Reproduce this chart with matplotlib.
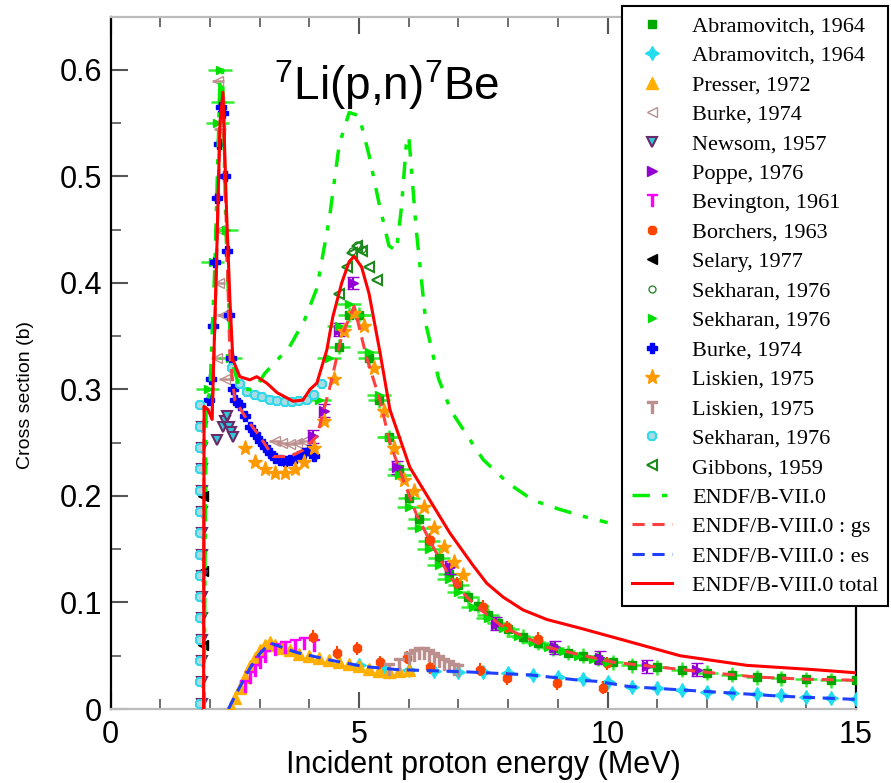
import matplotlib
matplotlib.use('Agg')
import matplotlib.pyplot as plt
from matplotlib.ticker import MultipleLocator, FixedLocator, FixedFormatter

plt.rcParams['font.family'] = ['Liberation Sans', 'DejaVu Sans']
plt.rcParams['mathtext.fontset'] = 'custom'
plt.rcParams['mathtext.rm'] = 'Liberation Sans'
plt.rcParams['mathtext.it'] = 'Liberation Sans'

# ---- evaluated curves (MeV, barn) ----
endf7_e = [1.88, 1.92, 2.0, 2.1, 2.2, 2.25, 2.32, 2.42, 2.6, 2.9, 3.1, 3.3, 3.6, 3.9, 4.15,
           4.4, 4.6, 4.8, 5.0, 5.2, 5.4, 5.6, 5.75, 5.85, 5.95, 6.0, 6.15, 6.35, 6.6, 6.85,
           7.2, 7.5, 8.0, 8.5, 9.0, 9.5, 10.0]
endf7_v = [0.0, 0.28, 0.30, 0.42, 0.59, 0.60, 0.45, 0.33, 0.30, 0.30, 0.315, 0.325, 0.34, 0.365, 0.395,
           0.46, 0.53, 0.56, 0.557, 0.52, 0.475, 0.435, 0.43, 0.47, 0.53, 0.538, 0.45, 0.36, 0.31, 0.28,
           0.255, 0.234, 0.212, 0.196, 0.188, 0.181, 0.175]

tot_e = [1.87, 1.88, 1.96, 2.04, 2.12, 2.2, 2.26, 2.33, 2.40, 2.46, 2.6, 2.8, 2.94, 3.14, 3.35,
         3.67, 3.87, 4.01, 4.15, 4.35, 4.47, 4.65, 4.8, 4.9, 5.05, 5.2, 5.42, 5.62, 6.02, 6.45,
         6.83, 7.29, 7.57, 7.9, 8.3, 8.78, 9.44, 10.3, 11.46, 12.8, 14.14, 15.0]
tot_v = [0.0, 0.284, 0.281, 0.272, 0.40, 0.55, 0.579, 0.47, 0.384, 0.328, 0.312, 0.309, 0.312, 0.306, 0.297,
         0.289, 0.29, 0.300, 0.306, 0.337, 0.368, 0.40, 0.42, 0.425, 0.415, 0.39, 0.335, 0.281, 0.227, 0.194,
         0.165, 0.135, 0.118, 0.105, 0.093, 0.084, 0.076, 0.065, 0.050, 0.041, 0.037, 0.034]

gs_e = [1.87, 1.88, 1.96, 2.04, 2.12, 2.2, 2.26, 2.33, 2.40, 2.5, 2.74, 3.0, 3.27, 3.61, 3.87,
        4.15, 4.4, 4.65, 4.9, 5.15, 5.42, 5.62, 5.89, 6.16, 6.49, 6.83, 7.17, 7.43, 7.9, 8.78,
        9.44, 10.1, 11.1, 12.1, 13.0, 14.0, 15.0]
gs_v = [0.0, 0.284, 0.281, 0.272, 0.40, 0.55, 0.575, 0.45, 0.33, 0.29, 0.272, 0.256, 0.237, 0.237, 0.243,
        0.256, 0.30, 0.35, 0.378, 0.33, 0.29, 0.25, 0.215, 0.182, 0.152, 0.124, 0.105, 0.094, 0.077, 0.058,
        0.051, 0.044, 0.039, 0.034, 0.030, 0.028, 0.027]

es_e = [2.37, 2.5, 2.8, 3.0, 3.21, 3.5, 3.75, 4.41, 5.08, 5.76, 7.1, 8.44, 9.44, 9.78, 10.45,
        11.46, 12.5, 13.5, 15.0]
es_v = [0.0, 0.012, 0.038, 0.052, 0.062, 0.057, 0.053, 0.046, 0.040, 0.037, 0.035, 0.032, 0.027, 0.026, 0.021,
        0.018, 0.015, 0.012, 0.009]

# ---- experimental data ----
abr_gs_e = [4.6, 4.8, 5.0, 5.2, 5.4, 5.6, 5.8, 6.0, 6.2, 6.4, 6.6, 6.8, 7.0, 7.2, 7.4, 7.6, 7.8, 8.0,
            8.3, 8.6, 8.9, 9.2, 9.5, 9.8, 10.1, 10.5, 11.0, 11.5, 12.0, 12.5, 13.0, 13.5, 14.0, 14.5, 15.0]
abr_gs_v = [0.34, 0.37, 0.37, 0.33, 0.29, 0.255, 0.225, 0.198, 0.178, 0.158, 0.142, 0.127, 0.116, 0.105,
            0.097, 0.088, 0.081, 0.075, 0.068, 0.062, 0.057, 0.053, 0.050, 0.047, 0.044, 0.041, 0.039,
            0.037, 0.034, 0.032, 0.030, 0.029, 0.028, 0.027, 0.027]

abr_es_e = [5.0, 5.5, 6.0, 6.5, 7.0, 7.5, 8.0, 8.5, 9.0, 9.5, 10.0, 10.5, 11.0, 11.5, 12.0, 12.5,
            13.0, 13.5, 14.0, 14.5, 15.0]
abr_es_v = [0.041, 0.038, 0.037, 0.036, 0.035, 0.035, 0.034, 0.032, 0.030, 0.028, 0.025, 0.021, 0.020,
            0.018, 0.016, 0.015, 0.014, 0.013, 0.011, 0.010, 0.009]

presser_e = [2.42, 2.5, 2.6, 2.7, 2.8, 2.9, 3.0, 3.1, 3.2, 3.3, 3.45, 3.6, 3.8, 4.0, 4.2, 4.4, 4.6,
             4.8, 5.0, 5.2, 5.4, 5.6, 5.8, 6.0]
presser_v = [0.002, 0.01, 0.02, 0.03, 0.04, 0.048, 0.055, 0.06, 0.063, 0.06, 0.057, 0.055, 0.052, 0.05,
             0.048, 0.046, 0.044, 0.042, 0.040, 0.038, 0.036, 0.035, 0.036, 0.037]

burke_r_e = [2.16, 2.2, 2.24, 2.2, 2.18, 2.26, 2.14, 2.3, 3.3, 3.45, 3.6, 3.75, 3.9]
burke_r_v = [0.59, 0.545, 0.50, 0.45, 0.40, 0.37, 0.33, 0.31, 0.252, 0.25, 0.249, 0.25, 0.252]

newsom_e = [1.84, 1.84, 1.84, 1.84, 1.84, 1.84, 1.84, 1.84, 1.84, 1.84, 1.84, 1.84, 1.84, 1.84,
            2.14, 2.26, 2.30, 2.34, 2.38, 2.42, 2.46]
newsom_v = [0.005, 0.025, 0.045, 0.065, 0.085, 0.105, 0.125, 0.145, 0.165, 0.185, 0.205, 0.225, 0.245,
            0.265, 0.253, 0.265, 0.27, 0.275, 0.265, 0.26, 0.255]

poppe_e = [4.08, 4.3, 4.6, 4.88, 5.76, 6.83, 7.75, 8.95, 9.85, 10.8, 11.8]
poppe_v = [0.256, 0.28, 0.356, 0.40, 0.227, 0.133, 0.08, 0.058, 0.048, 0.04, 0.037]

bev_e = [2.7, 2.8, 2.9, 3.0, 3.1, 3.3, 3.5, 3.7, 3.9, 4.1]
bev_v = [0.022, 0.03, 0.037, 0.044, 0.05, 0.056, 0.058, 0.06, 0.062, 0.06]

borch_e = [4.08, 4.55, 4.96, 5.42, 5.96, 6.43, 7.43, 7.97, 8.98, 9.9,
           6.43, 6.97, 7.5, 7.97, 8.6, 9.98]
borch_v = [0.068, 0.053, 0.057, 0.044, 0.048, 0.039, 0.037, 0.029, 0.024, 0.02,
           0.159, 0.118, 0.096, 0.077, 0.066, 0.043]

selary_e = [1.86, 1.86, 1.86]
selary_v = [0.06, 0.13, 0.2]

sek_c_e = [4.85, 4.95, 5.05]
sek_c_v = [0.43, 0.436, 0.432]

sek_t_e = [1.95, 2.05, 2.15, 2.2, 2.25, 2.32, 2.4, 4.2, 4.4, 4.6, 4.8, 5.0, 5.2, 5.4, 5.6, 5.8, 6.0,
           6.2, 6.4, 6.6, 6.8, 7.0, 7.3, 7.6, 7.9, 8.2, 8.5, 8.8, 9.1, 9.4, 9.7, 10.0]
sek_t_v = [0.3, 0.42, 0.55, 0.60, 0.57, 0.45, 0.33, 0.29, 0.33, 0.36, 0.38, 0.37, 0.335, 0.295, 0.255,
           0.22, 0.19, 0.17, 0.15, 0.135, 0.122, 0.11, 0.096, 0.085, 0.076, 0.069, 0.063, 0.058, 0.054,
           0.05, 0.047, 0.044]

burke_b_e = [1.98, 2.02, 2.06, 2.1, 2.14, 2.18, 2.22, 2.26, 2.3, 2.34, 2.38, 2.42, 2.46, 2.5, 2.6,
             2.7, 2.8, 2.9, 3.0, 3.1, 3.2, 3.3, 3.4, 3.5, 3.6, 3.7, 3.8, 3.9, 4.0, 4.1]
burke_b_v = [0.29, 0.31, 0.36, 0.42, 0.48, 0.53, 0.565, 0.56, 0.50, 0.43, 0.37, 0.33, 0.30, 0.29, 0.285,
             0.275, 0.265, 0.258, 0.252, 0.246, 0.24, 0.236, 0.234, 0.233, 0.234, 0.236, 0.238, 0.24,
             0.243, 0.238]

lisk_o_e = [2.7, 2.9, 3.1, 3.3, 3.5, 3.7, 3.9, 4.1, 4.3, 4.5, 4.7, 4.9, 5.1, 5.3, 5.5, 5.7, 5.9, 6.1,
            6.3, 6.5, 6.7, 6.9, 7.1]
lisk_o_v = [0.245, 0.232, 0.225, 0.222, 0.222, 0.225, 0.232, 0.245, 0.27, 0.31, 0.355, 0.372, 0.36, 0.32,
            0.28, 0.245, 0.215, 0.205, 0.19, 0.17, 0.152, 0.138, 0.126]

lisk_r_e = [5.6, 5.8, 6.0, 6.1, 6.2, 6.3, 6.4, 6.5, 6.6, 6.7, 6.8, 6.9, 7.0]
lisk_r_v = [0.038, 0.042, 0.048, 0.051, 0.053, 0.053, 0.051, 0.048, 0.045, 0.042, 0.04, 0.038, 0.037]

sek_o_e = [1.80, 1.80, 1.80, 1.80, 1.80, 1.80, 1.80, 1.80, 1.80, 1.80, 1.80, 1.80, 1.80, 1.80, 1.80,
           2.45, 2.6, 2.75, 2.9, 3.05, 3.2, 3.35, 3.5, 3.65, 3.8, 3.95, 4.1, 4.25]
sek_o_v = [0.005, 0.025, 0.045, 0.065, 0.085, 0.105, 0.125, 0.145, 0.165, 0.185, 0.205, 0.225, 0.245,
           0.265, 0.285, 0.32, 0.305, 0.298, 0.295, 0.293, 0.29, 0.289, 0.288, 0.288, 0.289, 0.29,
           0.295, 0.305]

gib_e = [4.6, 4.75, 4.85, 4.95, 5.05, 5.2, 5.36]
gib_v = [0.39, 0.415, 0.428, 0.435, 0.43, 0.415, 0.403]

xticks = [0, 5, 10, 15]
xlabels = ['0', '5', '10', '15']
yticks = [0, 0.1, 0.2, 0.3, 0.4, 0.5, 0.6]
ylabels = ['0', '0.1', '0.2', '0.3', '0.4', '0.5', '0.6']

fig = plt.figure(figsize=(8.91, 7.83), dpi=100)
ax = fig.add_axes([0.1242, 0.0945, 0.8365, 0.8842])

ms = 7
handles = []
handles += ax.plot(abr_gs_e, abr_gs_v, 's', color='#00a800', ms=6, label='Abramovitch, 1964', zorder=3)
ax.errorbar(abr_gs_e, abr_gs_v, xerr=0.22, yerr=0.007, fmt='none', ecolor='#33ee33', elinewidth=1.8, zorder=2)
handles += ax.plot(abr_es_e, abr_es_v, marker=(4, 1, 0), ls='none', color='#22ddee', ms=10,
                   label='Abramovitch, 1964', zorder=3)
handles += ax.plot(presser_e, presser_v, '^', color='#ffb000', ms=8, label='Presser, 1972', zorder=3)
ax.errorbar(burke_r_e, burke_r_v, xerr=0.12, fmt='none', ecolor='#c09090', elinewidth=1.8, zorder=2)
handles += ax.plot(burke_r_e, burke_r_v, '<', color='#bc8f8f', mfc='none', ms=ms, label='Burke, 1974', zorder=3)
handles += ax.plot(newsom_e, newsom_v, 'v', mfc='#30c8d8', mec='#6a2a6a', mew=1.5, ms=ms,
                   label='Newsom, 1957', zorder=3)
ax.errorbar(poppe_e, poppe_v, yerr=0.006, fmt='none', ecolor='#9400d3', capsize=4, zorder=3)
handles += ax.plot(poppe_e, poppe_v, '>', color='#9400d3', ms=ms, label='Poppe, 1976', zorder=3)
handles += ax.plot(bev_e, bev_v, marker='$\\mathsf{T}$', ls='none', color='#ff00ff', ms=9,
                   label='Bevington, 1961', zorder=3)
ax.errorbar(borch_e, borch_v, xerr=0.08, yerr=0.006, fmt='none', ecolor='#ff4500', zorder=3)
handles += ax.plot(borch_e, borch_v, '8', color='#ff4500', ms=ms, label='Borchers, 1963', zorder=3)
handles += ax.plot(selary_e, selary_v, '<', color='black', ms=ms, label='Selary, 1977', zorder=1)
handles += ax.plot(sek_c_e, sek_c_v, 'o', mfc='none', mec='#2e8b2e', ms=5, label='Sekharan, 1976', zorder=3)
ax.errorbar(sek_t_e, sek_t_v, xerr=0.24, fmt='none', ecolor='#33ee33', elinewidth=1.8, zorder=2)
handles += ax.plot(sek_t_e, sek_t_v, '>', color='#00dd00', ms=6, label='Sekharan, 1976', zorder=3)
ax.errorbar(burke_b_e, burke_b_v, xerr=0.09, fmt='none', ecolor='#0000ff', elinewidth=2, zorder=2)
handles += ax.plot(burke_b_e, burke_b_v, 'P', color='#0000ff', ms=ms, label='Burke, 1974', zorder=3)
handles += ax.plot(lisk_o_e, lisk_o_v, '*', color='#ff9900', ms=11, label='Liskien, 1975', zorder=3)
handles += ax.plot(lisk_r_e, lisk_r_v, marker='$\\mathsf{T}$', ls='none', color='#bc8f8f', ms=8,
                   label='Liskien, 1975', zorder=3)
handles += ax.plot(sek_o_e, sek_o_v, '8', mfc='#a8dce4', mec='#30d8ea', mew=1.5, ms=ms,
                   label='Sekharan, 1976', zorder=3)
handles += ax.plot(gib_e, gib_v, '<', mfc='none', mec='#1a8a1a', mew=1.5, ms=ms, label='Gibbons, 1959', zorder=3)

handles += ax.plot(endf7_e, endf7_v, color='#00ee00', lw=2.5, dashes=(5, 3.5, 1.5, 3.5),
                   label='ENDF/B-VII.0', zorder=4)
handles += ax.plot(gs_e, gs_v, color='#ff4040', lw=2.2, dashes=(4, 2.5), label='ENDF/B-VIII.0 : gs', zorder=4)
handles += ax.plot(es_e, es_v, color='#2040ff', lw=2.2, dashes=(4, 2.5), label='ENDF/B-VIII.0 : es', zorder=4)
handles += ax.plot(tot_e, tot_v, color='#ff0000', lw=2.2, label='ENDF/B-VIII.0 total', zorder=5)

ax.set_xlim(0, 15)
ax.set_ylim(0, 0.65)
ax.xaxis.set_major_locator(FixedLocator(xticks))
ax.xaxis.set_major_formatter(FixedFormatter(xlabels))
ax.xaxis.set_minor_locator(MultipleLocator(1))
ax.yaxis.set_major_locator(FixedLocator(yticks))
ax.yaxis.set_major_formatter(FixedFormatter(ylabels))
ax.yaxis.set_minor_locator(MultipleLocator(0.05))
ax.tick_params(which='both', direction='in', top=True, right=False, colors='#555555',
               labelcolor='black', labelsize=22)
ax.tick_params(which='major', length=12, width=1.5)
ax.tick_params(which='minor', length=7, width=1.2)
ax.tick_params(axis='x', pad=8)
ax.tick_params(axis='y', pad=6)
for side in ['left', 'right']:
    ax.spines[side].set_color('black')
    ax.spines[side].set_linewidth(1.6)
for side in ['top', 'bottom']:
    ax.spines[side].set_color('#bbbbbb')
    ax.spines[side].set_linewidth(1.6)

ax.set_xlabel('Incident proton energy (MeV)', fontsize=22, labelpad=0)
ax.set_ylabel('Cross section (b)', fontsize=14)
ax.yaxis.set_label_coords(-0.103, 0.454)
ax.text(5.55, 0.572, r'$^{7}$Li(p,n)$^{7}$Be', fontsize=33, ha='center', va='baseline')

leg = fig.legend(handles=handles, loc='upper left', bbox_to_anchor=(622 / 891, 1 - 6 / 783),
                 prop={'family': 'Liberation Serif', 'size': 16}, frameon=True, fancybox=False,
                 framealpha=1, edgecolor='black', labelspacing=0.40, handlelength=1.8,
                 handletextpad=0.9, borderpad=0.45, borderaxespad=0)
leg.get_frame().set_linewidth(1.5)

fig.savefig('out.png', dpi=100)
